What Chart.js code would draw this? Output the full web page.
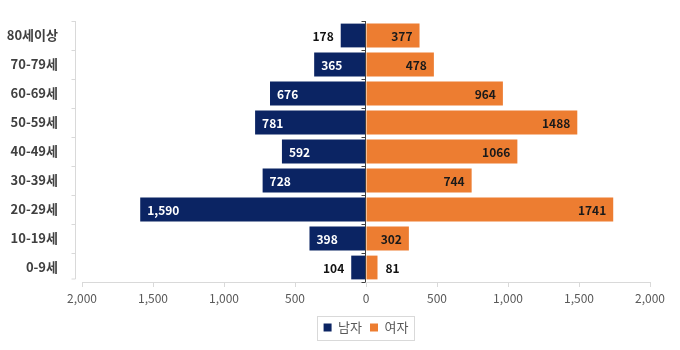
<!DOCTYPE html>
<html>
<head>
<meta charset="utf-8">
<script src="https://cdn.jsdelivr.net/npm/chart.js@4.4.1/dist/chart.umd.min.js"></script>
<style>
  html, body { margin: 0; padding: 0; background: #ffffff; }
  #wrap { width: 680px; height: 350px; position: relative; }
</style>
</head>
<body>
<div id="wrap"><canvas id="c" width="680" height="350"></canvas></div>
<script>
const categories = ['80세이상', '70-79세', '60-69세', '50-59세', '40-49세', '30-39세', '20-29세', '10-19세', '0-9세'];
const maleValues = [178, 365, 676, 781, 592, 728, 1590, 398, 104];
const femaleValues = [377, 478, 964, 1488, 1066, 744, 1741, 302, 81];
const seriesNames = ['남자', '여자'];
const xTickValues = [-2000, -1500, -1000, -500, 0, 500, 1000, 1500, 2000];

const NAVY = '#0b2463';
const ORANGE = '#ed7d31';
const FONT = "'Noto Sans CJK KR', 'Noto Sans', sans-serif";

Chart.defaults.font.family = FONT;

const labelPlugin = {
  id: 'barLabels',
  afterDatasetsDraw(chart) {
    const ctx = chart.ctx;
    ctx.save();
    ctx.font = "bold 12px " + FONT;
    ctx.textBaseline = 'middle';
    chart.data.datasets.forEach((ds, di) => {
      const meta = chart.getDatasetMeta(di);
      meta.data.forEach((bar, i) => {
        const raw = di === 0 ? maleValues[i] : femaleValues[i];
        const txt = di === 0 ? raw.toLocaleString('en-US') : String(raw);
        const tw = ctx.measureText(txt).width;
        const left = Math.min(bar.x, bar.base);
        const right = Math.max(bar.x, bar.base);
        const w = right - left;
        const y = bar.y + 1;
        if (di === 0) {
          if (w > tw + 14) {
            ctx.fillStyle = '#ffffff';
            ctx.textAlign = 'left';
            ctx.fillText(txt, left + 7, y);
          } else {
            ctx.fillStyle = '#111111';
            ctx.textAlign = 'right';
            ctx.fillText(txt, left - 7, y);
          }
        } else {
          if (w > tw + 14) {
            ctx.fillStyle = '#1a1a1a';
            ctx.textAlign = 'right';
            ctx.fillText(txt, right - 7, y);
          } else {
            ctx.fillStyle = '#111111';
            ctx.textAlign = 'left';
            ctx.fillText(txt, right + 8, y);
          }
        }
      });
    });
    ctx.restore();
  }
};

const axisLinesPlugin = {
  id: 'axisLines',
  beforeDatasetsDraw(chart) {
    const ctx = chart.ctx;
    const area = chart.chartArea;
    const ys = chart.scales.y;
    const n = categories.length;
    const step = (ys.getPixelForValue(1) - ys.getPixelForValue(0));
    ctx.save();
    const lx = area.left - 6.5;
    ctx.strokeStyle = '#d9d9d9';
    ctx.lineWidth = 1;
    ctx.beginPath();
    ctx.moveTo(lx, area.top);
    ctx.lineTo(lx, area.bottom - 3);
    for (let k = 0; k <= n; k++) {
      const yy = Math.min(Math.round(ys.getPixelForValue(0) - step / 2 + k * step) + 0.5, area.bottom - 3);
      ctx.moveTo(lx - 4, yy);
      ctx.lineTo(lx, yy);
    }
    ctx.stroke();
    ctx.restore();
  },
  afterDatasetsDraw(chart) {
    const ctx = chart.ctx;
    const area = chart.chartArea;
    const xs = chart.scales.x;
    const ys = chart.scales.y;
    const n = categories.length;
    const step = (ys.getPixelForValue(1) - ys.getPixelForValue(0));
    const zx = Math.round(xs.getPixelForValue(0)) - 0.5;
    ctx.save();
    ctx.strokeStyle = '#404040';
    ctx.lineWidth = 1;
    ctx.beginPath();
    ctx.moveTo(zx, area.top);
    ctx.lineTo(zx, area.bottom);
    for (let k = 0; k <= n; k++) {
      const yy = Math.round(ys.getPixelForValue(0) - step / 2 + k * step) + 0.5;
      ctx.moveTo(zx - 4, yy);
      ctx.lineTo(zx, yy);
    }
    ctx.stroke();
    ctx.restore();
  }
};

const legendBoxPlugin = {
  id: 'legendBox',
  afterDraw(chart) {
    const lg = chart.legend;
    if (!lg || !lg.legendHitBoxes || !lg.legendHitBoxes.length) return;
    const hb = lg.legendHitBoxes;
    let x1 = Infinity, x2 = -Infinity, y1 = Infinity, y2 = -Infinity;
    hb.forEach(b => {
      x1 = Math.min(x1, b.left); x2 = Math.max(x2, b.left + b.width);
      y1 = Math.min(y1, b.top); y2 = Math.max(y2, b.top + b.height);
    });
    const cy = (y1 + y2) / 2;
    const ctx = chart.ctx;
    ctx.save();
    ctx.strokeStyle = '#d9d9d9';
    ctx.lineWidth = 1;
    ctx.strokeRect(Math.round(x1 - 7) + 0.5, Math.round(cy - 12) + 0.5, Math.round(x2 - x1 + 12), 24);
    ctx.restore();
  }
};

new Chart(document.getElementById('c'), {
  type: 'bar',
  data: {
    labels: categories,
    datasets: [
      {
        label: seriesNames[0],
        data: maleValues.map(v => -v),
        backgroundColor: NAVY,
        borderWidth: 0,
        stack: 'pop',
        categoryPercentage: 1.0,
        barPercentage: 0.82
      },
      {
        label: seriesNames[1],
        data: femaleValues,
        backgroundColor: ORANGE,
        borderWidth: 0,
        stack: 'pop',
        categoryPercentage: 1.0,
        barPercentage: 0.82
      }
    ]
  },
  options: {
    indexAxis: 'y',
    responsive: false,
    animation: false,
    layout: { padding: { left: 0, right: 30, top: 21, bottom: 6 } },
    scales: {
      x: {
        stacked: true,
        min: -2000,
        max: 2000,
        afterBuildTicks(scale) { scale.ticks = xTickValues.map(v => ({ value: v })); },
        afterFit(scale) { scale.height = 31; },
        ticks: {
          callback: v => Math.abs(v).toLocaleString('en-US'),
          color: '#595959',
          font: { size: 12 },
          padding: 4,
          maxRotation: 0
        },
        grid: { drawOnChartArea: false, drawTicks: true, tickLength: 5, color: '#d9d9d9' },
        border: { display: true, color: '#d9d9d9' }
      },
      y: {
        stacked: true,
        afterFit(scale) { scale.width = 82; scale.paddingTop = 0; scale.paddingBottom = 0; },
        ticks: {
          color: '#404040',
          font: { size: 13, weight: 'bold' },
          padding: 24
        },
        grid: { display: false, drawTicks: false },
        border: { display: false }
      }
    },
    plugins: {
      legend: {
        position: 'bottom',
        fullSize: false,
        labels: {
          boxWidth: 8,
          boxHeight: 8,
          color: '#595959',
          font: { size: 13 },
          padding: 8
        }
      },
      tooltip: { enabled: false }
    }
  },
  plugins: [axisLinesPlugin, labelPlugin, legendBoxPlugin]
});
</script>
</body>
</html>
